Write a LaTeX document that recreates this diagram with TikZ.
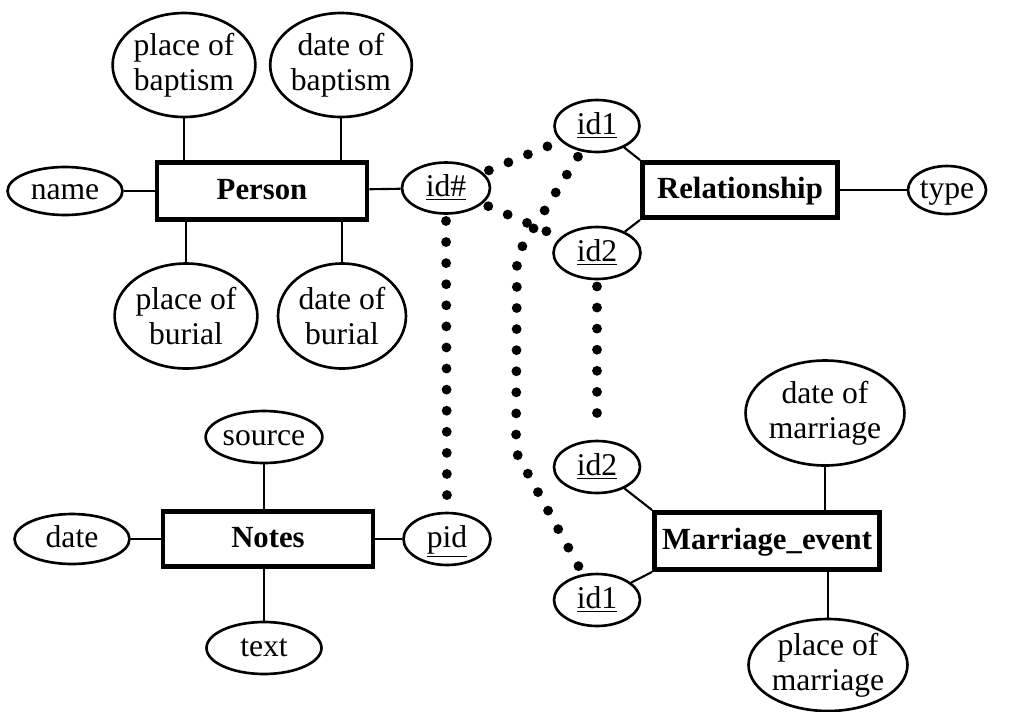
\documentclass[tikz,border=0pt]{standalone}
\usepackage{fontspec}
\setmainfont{Liberation Serif}
\usetikzlibrary{shapes.geometric}
\begin{document}
\begin{tikzpicture}[x=0.02cm,y=-0.02cm,
  attr/.style={ellipse,draw,line width=1.5pt,inner sep=0pt,align=center,
    font=\fontsize{18}{19.8}\selectfont},
  attrone/.style={attr,text height=12.5pt,text depth=3pt},
  entity/.style={rectangle,draw,line width=2.8pt,inner sep=0pt,
    text height=12.5pt,text depth=3pt,
    font=\bfseries\fontsize{17.5}{20}\selectfont},
  link/.style={line width=1.2pt},
  dots/.style={line width=5.6pt,line cap=round,dash pattern=on 0pt off 12pt,
    shorten <=3.5pt,shorten >=3.5pt}]
\useasboundingbox (0,0) rectangle (1015,711);

% entities
\node[entity,minimum width=4.2cm,minimum height=1.14cm] (person) at (262,191) {Person};
\node[entity,minimum width=3.9cm,minimum height=1.1cm] (rel) at (740,190) {Relationship};
\node[entity,minimum width=4.2cm,minimum height=1.1cm] (notes) at (268,539) {Notes};
\node[entity,minimum width=4.5cm,minimum height=1.14cm] (marr) at (767,541) {Marriage\_event};

% attributes of Person
\node[attr,minimum width=2.74cm,minimum height=2.08cm] (pob) at (184,65) {place of\\baptism};
\node[attr,minimum width=2.6cm,minimum height=2.08cm] (dob) at (341,65) {date of\\baptism};
\node[attr,minimum width=2.7cm,minimum height=2.1cm] (pobur) at (186,316) {place of\\burial};
\node[attr,minimum width=2.56cm,minimum height=2.1cm] (dobur) at (342,316) {date of\\burial};
\node[attrone,minimum width=2.3cm,minimum height=0.96cm] (name) at (65,191) {name};
\node[attrone,minimum width=1.76cm,minimum height=1.02cm] (idh) at (446,188) {\underline{id\#}};

% attributes of Relationship
\node[attrone,minimum width=1.7cm,minimum height=1.04cm] (id1a) at (597,126) {\underline{id1}};
\node[attrone,minimum width=1.74cm,minimum height=1.04cm] (id2a) at (597,253) {\underline{id2}};
\node[attrone,minimum width=1.56cm,minimum height=0.96cm] (type) at (947,190) {type};

% attributes of Notes
\node[attrone,minimum width=2.3cm,minimum height=1.04cm] (source) at (264,437) {source};
\node[attrone,minimum width=2.3cm,minimum height=1.0cm] (date) at (72,539) {date};
\node[attrone,minimum width=1.74cm,minimum height=1.04cm] (pid) at (447,539) {\underline{pid}};
\node[attrone,minimum width=2.3cm,minimum height=1.04cm] (text) at (264,648) {text};

% attributes of Marriage_event
\node[attrone,minimum width=1.72cm,minimum height=1.04cm] (id2b) at (597,467) {\underline{id2}};
\node[attrone,minimum width=1.72cm,minimum height=1.04cm] (id1b) at (597,600) {\underline{id1}};
\node[attr,minimum width=2.8cm,minimum height=2.1cm] (dom) at (825,413) {date of\\marriage};
\node[attr,minimum width=2.8cm,minimum height=1.84cm] (pom) at (828,665) {place of\\marriage};

% attribute links
\draw[link] (pob) -- (pob |- person.north);
\draw[link] (dob) -- (dob |- person.north);
\draw[link] (pobur) -- (pobur |- person.south);
\draw[link] (dobur) -- (dobur |- person.south);
\draw[link] (name) -- (person);
\draw[link] (idh) -- (person);
\draw[link] (id1a) -- (rel.north west);
\draw[link] (id2a) -- (rel.south west);
\draw[link] (type) -- (rel);
\draw[link] (source) -- (source |- notes.north);
\draw[link] (text) -- (text |- notes.south);
\draw[link] (date) -- (notes);
\draw[link] (pid) -- (notes);
\draw[link] (id2b) -- (marr.north west);
\draw[link] (id1b) -- (marr.south west);
\draw[link] (dom) -- (dom |- marr.north);
\draw[link] (pom) -- (pom |- marr.south);

% key correspondences
\coordinate (bend1) at (517,255);
\coordinate (bend2) at (516,452);
\draw[dots] (idh.south) -- (pid.north);
\draw[dots] (idh) -- (id1a);
\draw[dots] (idh) -- (id2a);
\draw[dots] (id2a.south) -- (id2b.north);
\draw[dots] (id1a) -- (bend1) -- (bend2) -- (id1b);
\end{tikzpicture}
\end{document}
